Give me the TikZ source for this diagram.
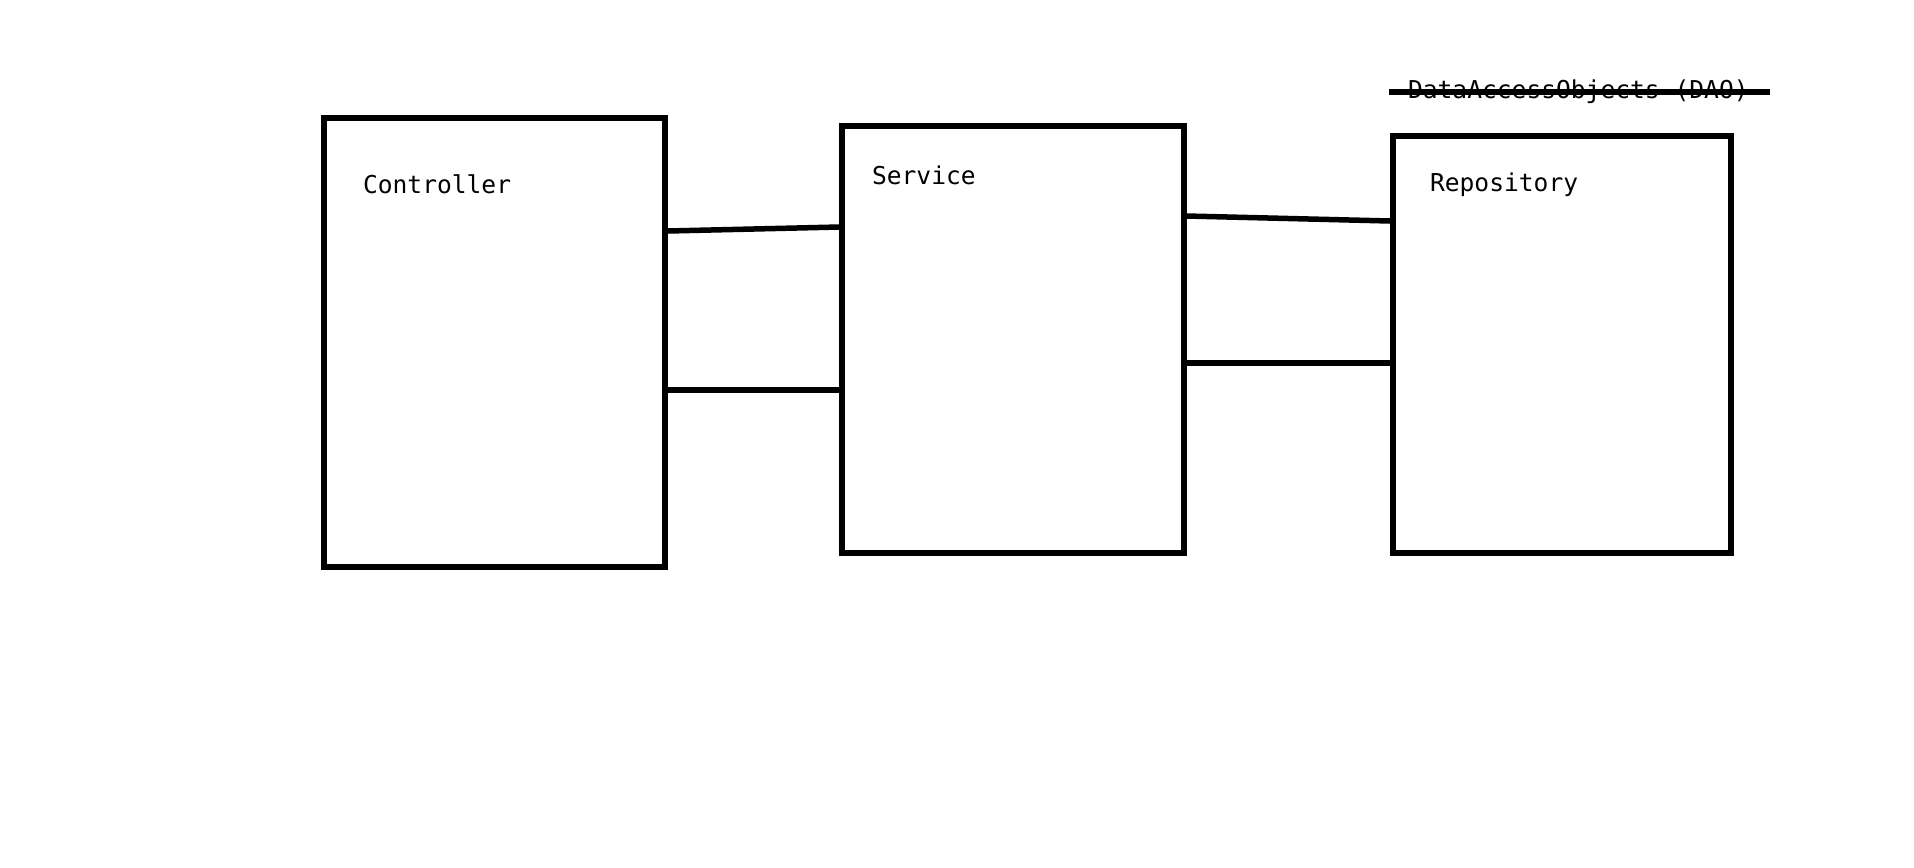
\documentclass[tikz,border=0pt]{standalone}
\usepackage{fontspec}
\setmonofont{DejaVu Sans Mono}
\usepackage{tikz}
\usetikzlibrary{positioning,calc}
\begin{document}
\begin{tikzpicture}[x=0.02cm,y=-0.02cm,line width=0.11cm]
    % `layer' is used for the three boxes.
    % `layername' is used for the name in the top left of a box.
    % `link' is used for the lines between the boxes.
    \tikzstyle{layer} = [draw,fill=white,inner sep=0pt]
    \tikzstyle{layername} = [font=\ttfamily\fontsize{14}{17}\selectfont,inner sep=0pt,anchor=west]
    \tikzstyle{link} = [line width=0.11cm]
    \useasboundingbox (0,0) rectangle (1914,867);
    %
    % Boxes.
    \node[layer,minimum width=6.82cm,minimum height=8.98cm] (ctrl) at (494.5,342.5) {};
    \node[layer,minimum width=6.84cm,minimum height=8.54cm] (svc) at (1013,339.5) {};
    \node[layer,minimum width=6.76cm,minimum height=8.34cm] (repo) at (1562,344.5) {};
    % Names.
    \node[layername] (ctrlname) at ([shift={(0.78cm,-1.37cm)}]ctrl.north west) {Controller};
    \node[layername] (svcname) at ([shift={(0.6cm,-1.05cm)}]svc.north west) {Service};
    \node[layername] (reponame) at ([shift={(0.74cm,-1.03cm)}]repo.north west) {Repository};
    \node[layername] (dao) at ([shift={(0.3cm,0.83cm)}]repo.north west) {DataAccessObjects (DAO)};
    % Struck out.
    \draw[link] ([xshift=-0.32cm]dao.west) -- ([xshift=0.38cm]dao.east);
    % Lines.
    \draw[link] (ctrl.east |- 0,231) -- (svc.west |- 0,227);
    \draw[link] (ctrl.east |- 0,390) -- (svc.west |- 0,390);
    \draw[link] (svc.east |- 0,216) -- (repo.west |- 0,221);
    \draw[link] (svc.east |- 0,363) -- (repo.west |- 0,363);
\end{tikzpicture}
\end{document}
